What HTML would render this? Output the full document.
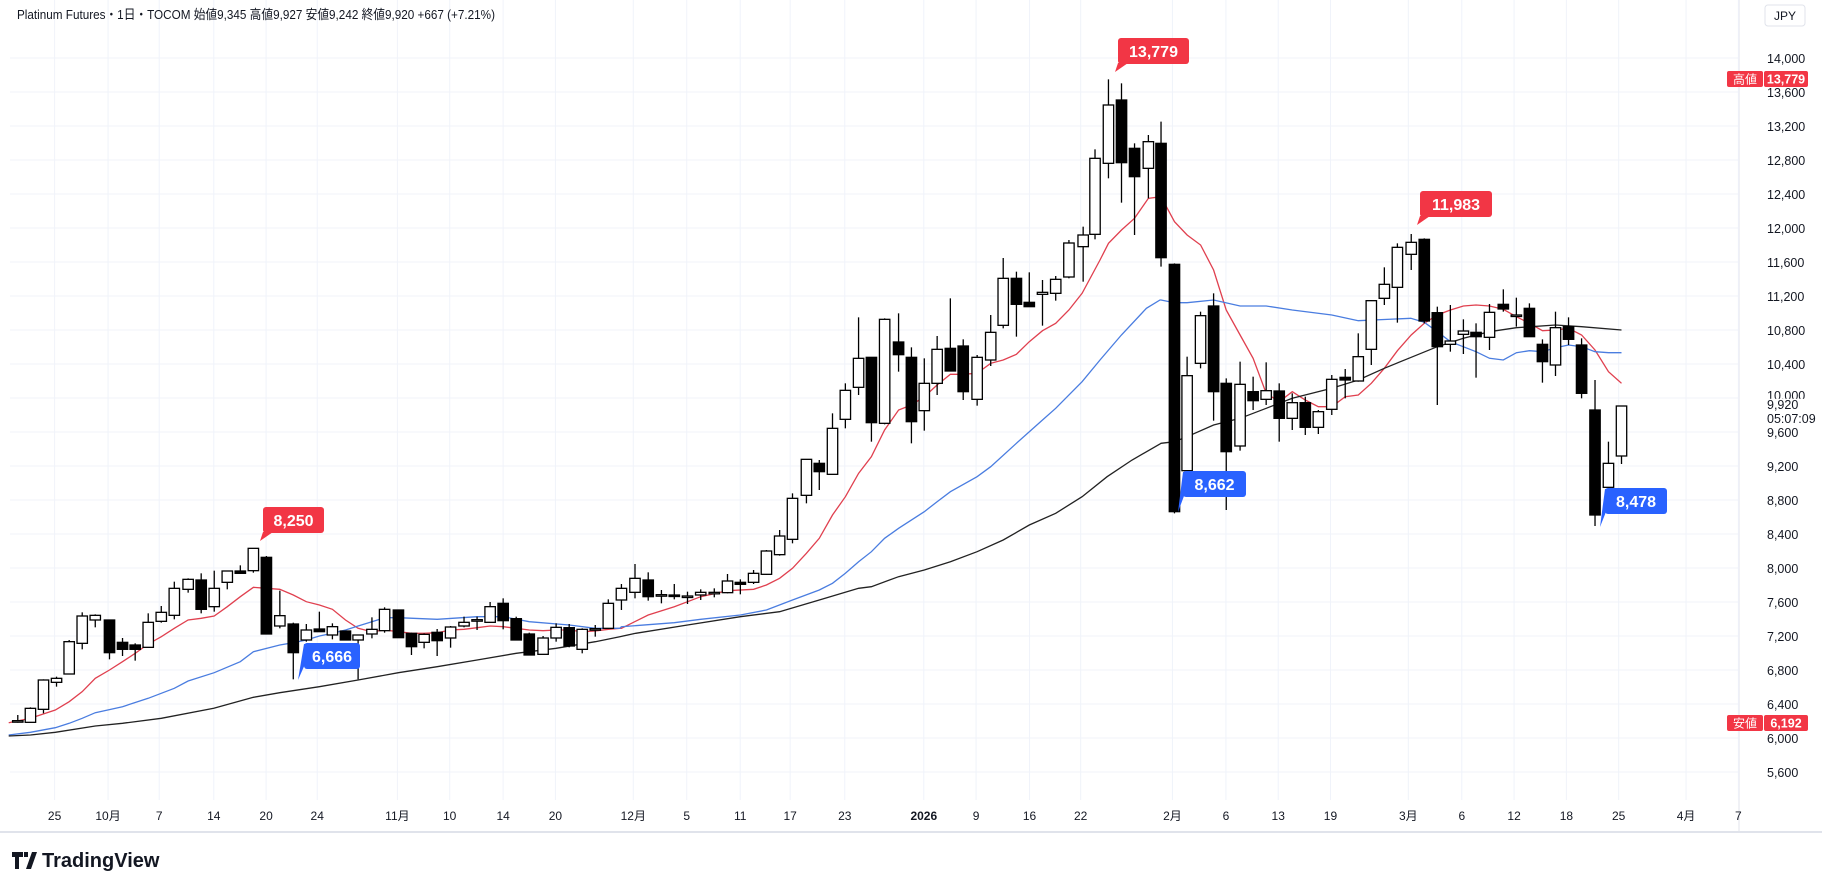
<!DOCTYPE html>
<html><head><meta charset="utf-8">
<style>
html,body{margin:0;padding:0;background:#fff;width:1822px;height:889px;overflow:hidden}
svg{display:block;font-family:"Liberation Sans","Noto Sans CJK JP",sans-serif}
</style></head>
<body>
<svg id="s" width="1822" height="889" viewBox="0 0 1822 889" xmlns="http://www.w3.org/2000/svg">
<rect width="1822" height="889" fill="#fff"/>
<g id="grid"></g>
<g id="ma"></g>
<g id="candles"></g>
<g id="labels"></g>
<text x="17" y="19" font-size="13" fill="#131722" textLength="478" lengthAdjust="spacingAndGlyphs">Platinum Futures・1日・TOCOM  始値9,345  高値9,927  安値9,242  終値9,920  +667 (+7.21%)</text>
<rect x="1765" y="5" width="40" height="21" rx="3" fill="#fff" stroke="#e0e3eb"/>
<text x="1785" y="20" font-size="12" fill="#131722" text-anchor="middle">JPY</text>
<line x1="0" y1="832" x2="1822" y2="832" stroke="#e0e3eb" stroke-width="2"/>
<g transform="translate(12,850)">
<path d="M0 2h11v5h-4v12h-4v-12h-3z M12 2h4v5h-4z M20 2h5l-6 17h-5z" fill="#131722"/>
<text x="30" y="17" font-size="20" font-weight="bold" fill="#131722">TradingView</text>
</g>
</svg>
<script>
const NS="http://www.w3.org/2000/svg";
function el(p,t,a,txt){const e=document.createElementNS(NS,t);for(const k in a)e.setAttribute(k,a[k]);if(txt!==undefined)e.textContent=txt;document.getElementById(p).appendChild(e);return e;}
const py=p=>58+(14000-p)/400*34;
// grid
for(let p=5600;p<=14000;p+=400){const y=py(p);el('grid','line',{x1:10,y1:y,x2:1739,y2:y,stroke:'#f0f3fa','stroke-width':1});
 if(p!==10000) el('grid','text',{x:1767,y:y+5,'font-size':12.5,fill:'#131722'},p.toLocaleString('en-US'));}
el('grid','line',{x1:1739,y1:0,x2:1739,y2:832,stroke:'#e0e3eb'});
el('grid','text',{x:1767,y:py(10000)+2,'font-size':12.5,fill:'#131722'},'10,000');
el('grid','rect',{x:1764,y:py(9920)-6,width:50,height:24,fill:'#fff'});
el('grid','text',{x:1767,y:py(9920)+4,'font-size':12.5,fill:'#131722'},'9,920');
el('grid','text',{x:1767,y:py(9920)+18,'font-size':12.5,fill:'#131722'},'05:07:09');
const xl=[["25",47],["10月",93],["7",137],["14",184],["20",229],["24",273],["11月",342],["10",387],["14",433],["20",478],["12月",545],["5",591],["11",637],["17",680],["23",727],["2026",795],["9",840],["16",886],["22",930],["2月",1009],["6",1055],["13",1100],["19",1145],["3月",1212],["6",1258],["12",1303],["18",1348],["25",1393],["4月",1451],["7",1496]];
xl.forEach(([t,x])=>{const X=x*1.162;el('grid','line',{x1:X,y1:0,x2:X,y2:800,stroke:'#f0f3fa'});
 el('grid','text',{x:X,y:820,'font-size':12,fill:'#131722','text-anchor':'middle','font-weight':t==='2026'?'bold':'normal'},t);});
// candles data: [zx,hi,lo,top,bot,filled]
const R1=[[45,645,668,662,666,0],[77,622,668,625,667,0],[110,538,640,540,628,0],[143,530,560,535,547,0],[175,420,523,425,522,0],[208,337,448,348,430,0],[241,343,382,346,360,0],[277,360,478,360,458,1],[310,414,468,427,448,1],[342,430,482,435,448,1],[375,340,442,367,442,0],[408,318,368,337,364,0],[441,245,358,265,346,0],[476,235,278,238,268,0],[509,220,340,240,328,1],[542,212,335,265,320,0],[575,213,268,213,247,0],[608,196,222,213,220,1],[641,145,218,145,212,0],[674,168,402,172,402,1],[708,272,385,347,378,0],[742,368,538,372,458,1],[775,372,425,390,420,0],[808,335,395,387,395,1],[841,370,418,380,405,0],[874,393,420,393,420,1],[906,405,538,405,420,0],[941,352,415,388,402,0],[973,322,398,328,392,0],[1008,330,413,330,413,1],[1041,398,465,400,440,1],[1073,400,445,403,427,0],[1106,387,468,397,422,1],[1140,378,443,381,414,0],[1174,350,382,367,378,0],[1207,350,390,359,361,0],[1240,306,368,320,367,0],[1273,295,388,310,362,1],[1306,350,420,356,420,1],[1339,398,465,402,465,1],[1374,408,463,414,463,0],[1407,370,425,382,414,0],[1440,372,442,383,438,1],[1473,385,460,388,448,0],[1506,375,410,386,388,0],[1539,298,385,310,385,0]];
const R2=[[60,972,1050,985,1020,0],[98,912,1015,955,997,0],[135,937,1022,960,1010,1],[172,990,1030,1004,1007,0],[208,972,1018,1005,1009,1],[245,995,1032,1008,1010,0],[282,988,1020,997,1005,0],[320,985,1012,997,999,0],[357,942,1000,963,998,0],[393,958,1003,967,973,1],[430,930,972,940,967,0],[466,870,945,873,943,0],[503,810,887,828,884,0],[539,700,850,715,838,0],[578,598,730,598,706,0],[614,600,690,610,635,1],[651,460,643,505,643,0],[687,370,505,391,478,0],[724,172,405,295,382,0],[760,292,545,292,488,1],[797,175,493,178,490,0],[836,160,335,246,284,1],[872,262,550,292,485,1],[908,295,512,370,452,0],[944,228,405,268,370,0],[981,115,333,265,333,1],[1017,238,420,258,395,1],[1056,285,437,292,418,0],[1094,165,318,217,300,0],[1129,-6,205,55,196,0],[1166,35,230,55,133,1],[1202,37,140,127,140,1],[1239,60,197,97,103,0],[1276,48,122,58,100,0],[1313,-60,55,-51,51,0]];
const R3=[[8,590,755,615,650,0],[38,358,628,385,613,0],[72,148,445,225,400,0],[105,160,518,210,398,1],[138,340,615,355,440,1],[173,315,505,335,415,0],[205,275,710,340,683,1],[239,700,1450,703,1445,1],[271,980,1322,1037,1322,0],[305,845,1015,857,1000,0],[338,790,1172,828,1085,1],[370,1045,1440,1060,1265,1],[405,995,1262,1063,1248,0],[438,1040,1140,1085,1112,1],[471,997,1125,1082,1108,0],[504,1060,1235,1083,1165,1],[537,1090,1200,1118,1165,0],[570,1100,1215,1118,1192,1],[603,1140,1212,1145,1192,0],[637,1035,1155,1048,1138,0],[671,1017,1105,1042,1050,1],[704,910,1055,980,1053,0],[737,810,1005,812,958,0],[770,712,825,763,805,0],[803,640,878,652,772,0],[838,612,720,637,673,0],[871,625,880,628,873,1],[904,830,1125,848,950,1],[937,825,965,933,943,0],[970,868,972,903,913,0],[1002,880,1043,907,920,1],[1036,822,960,847,922,0],[1071,778,845,823,837,1],[1104,803,890,855,858,0],[1137,820,920,835,920,1],[1170,928,1058,943,995,1],[1203,845,1038,893,1005,0],[1236,862,945,890,928,1],[1269,925,1105,945,1090,1],[1303,1050,1488,1140,1455,1],[1337,1235,1372,1300,1372,0],[1370,1128,1302,1128,1278,0]];
const T=[[0,500,2.53],[600,260,2.8],[1080,30,2.53]];
function tx(r,zx){return T[r][0]+zx/T[r][2];} function ty(r,zy){return T[r][1]+zy/3;}
[R1,R2,R3].forEach((R,r)=>R.forEach(c=>{const x=tx(r,c[0]);
 el('candles','line',{x1:x,y1:ty(r,c[1]),x2:x,y2:ty(r,c[2]),stroke:'#000','stroke-width':1.3});
 const t=ty(r,c[3]),b=Math.max(ty(r,c[4]),t+1.5);
 el('candles','rect',{x:x-5.2,y:t,width:10.4,height:b-t,fill:c[5]?'#000':'#fff',stroke:'#000','stroke-width':1.3});}));
// MAs
const MA={
red:[[[22,668],[77,655],[140,630],[175,605],[208,575],[241,535],[277,510],[310,485],[342,460],[375,432],[408,410],[441,385],[476,360],[509,355],[542,348],[575,320],[608,290],[641,262],[674,265],[708,268],[742,285],[775,305],[808,315],[841,328],[874,360],[906,385],[941,395],[973,390],[1008,395],[1041,400],[1073,400],[1106,398],[1140,390],[1174,388],[1207,383],[1240,378],[1273,380],[1306,385],[1339,390],[1374,392],[1407,390],[1440,390],[1473,395],[1506,393],[1539,388],[1568,385]],
[[0,1115],[60,1105],[135,1065],[208,1040],[282,1010],[357,992],[430,988],[466,975],[503,955],[539,925],[578,880],[614,835],[651,765],[687,710],[724,640],[760,590],[797,510],[836,450],[872,435],[908,410],[944,375],[981,343],[1017,343],[1056,340],[1094,310],[1129,300],[1166,283],[1202,245],[1239,212],[1276,190],[1313,150],[1350,100],[1400,0]],
[[0,790],[38,710],[72,640],[105,600],[138,565],[173,505],[205,500],[239,575],[271,615],[305,645],[338,720],[370,840],[405,915],[438,985],[471,1090],[504,1115],[537,1085],[570,1110],[603,1130],[637,1130],[671,1100],[704,1095],[737,1060],[770,1015],[803,962],[838,915],[871,880],[904,855],[937,840],[970,828],[1002,825],[1036,828],[1071,838],[1104,860],[1137,880],[1170,902],[1203,900],[1236,895],[1269,915],[1303,960],[1337,1025],[1370,1060]]],
blue:[[[22,705],[77,697],[140,683],[175,670],[208,655],[241,638],[310,620],[375,595],[441,565],[476,543],[542,518],[608,485],[641,455],[708,435],[742,428],[775,420],[808,408],[841,400],[874,390],[906,378],[941,365],[973,353],[1008,353],[1106,358],[1207,350],[1273,350],[1339,365],[1440,375],[1506,385],[1568,385]],
[[0,1110],[60,1100],[208,1088],[282,1078],[393,1065],[466,1050],[539,1020],[614,990],[651,970],[687,940],[724,905],[760,875],[797,835],[836,805],[908,755],[944,725],[981,695],[1056,650],[1094,620],[1166,550],[1239,480],[1276,445],[1350,365],[1400,300],[1460,225],[1530,145],[1568,120]],
[[0,1055],[72,950],[138,870],[205,810],[239,818],[271,818],[338,810],[405,828],[471,828],[537,840],[637,855],[704,872],[837,865],[871,877],[904,905],[937,935],[1002,965],[1036,985],[1071,990],[1104,968],[1137,962],[1170,965],[1203,953],[1236,945],[1269,950],[1303,965],[1337,968],[1370,968]]],
black:[[[22,708],[77,705],[140,697],[241,678],[310,670],[408,655],[541,625],[641,592],[708,578],[808,560],[906,540],[1008,518],[1106,500],[1207,480],[1306,460],[1407,445],[1506,425],[1568,410]],
[[0,1140],[100,1120],[245,1095],[393,1070],[503,1055],[614,1020],[724,985],[760,980],[836,950],[908,930],[981,905],[1056,875],[1129,840],[1202,795],[1276,760],[1350,710],[1420,650],[1490,600],[1568,552]],
[[0,1405],[72,1340],[138,1285],[205,1240],[239,1235],[271,1220],[338,1185],[405,1165],[471,1135],[537,1105],[637,1075],[704,1050],[770,1015],[838,982],[904,950],[970,925],[1036,905],[1104,893],[1203,885],[1269,890],[1370,900]]]};
const col={red:'#e0404f',blue:'#4a7de0',black:'#222'};
for(const k in MA){const pts=[];let lastX=-1;
 MA[k].forEach((seg,r)=>seg.forEach(p=>{const x=tx(r,p[0]);if(x>lastX+0.5){pts.push(x.toFixed(1)+','+ty(r,p[1]).toFixed(1));lastX=x;}}));
 el('ma','polyline',{points:pts.join(' '),fill:'none',stroke:col[k],'stroke-width':1.3});}
// labels
function lab(x,y,w,t,c,tipx,tipy,bx){el('labels','path',{d:`M${bx} ${y+25} L${tipx} ${tipy} L${bx+10} ${y+25}Z`,fill:c});
 el('labels','rect',{x:x,y:y,width:w,height:26,rx:3,fill:c});
 el('labels','text',{x:x+w/2,y:y+19,'font-size':16,'font-weight':'bold',fill:'#fff','text-anchor':'middle'},t);}
function labD(x,y,w,t,c,tipx,tipy,bx){el('labels','path',{d:`M${bx} ${y+1} L${tipx} ${tipy} L${bx+10} ${y+1}Z`,fill:c});
 el('labels','rect',{x:x,y:y,width:w,height:26,rx:3,fill:c});
 el('labels','text',{x:x+w/2,y:y+19,'font-size':16,'font-weight':'bold',fill:'#fff','text-anchor':'middle'},t);}
lab(1118,38,71,'13,779','#f23645',1115,72,1118);
lab(1420,191,72,'11,983','#f23645',1417,225,1420);
lab(263,507,61,'8,250','#f23645',260,541,263);
labD(1183,471,63,'8,662','#2962ff',1178,512,1183);
labD(1605,488,62,'8,478','#2962ff',1600,527,1605);
labD(304,643,56,'6,666','#2962ff',298,680,304);
// axis price tags
function tag(y,a,b){el('labels','rect',{x:1727,y:y,width:36,height:16,rx:2,fill:'#f23645'});
 el('labels','text',{x:1745,y:y+12.5,'font-size':12,fill:'#fff','text-anchor':'middle'},a);
 el('labels','rect',{x:1764,y:y,width:44,height:16,rx:2,fill:'#f23645'});
 el('labels','text',{x:1786,y:y+12.5,'font-size':12.5,'font-weight':'bold',fill:'#fff','text-anchor':'middle'},b);}
tag(71,'高値','13,779');tag(715,'安値','6,192');
</script>
</body></html>
